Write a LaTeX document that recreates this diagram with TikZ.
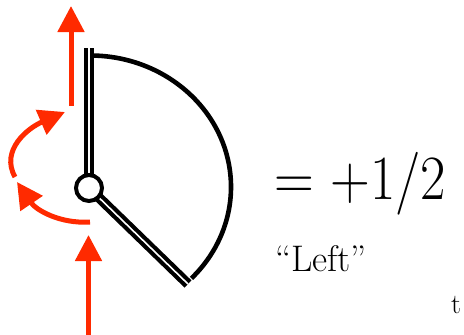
\documentclass[tikz,border=0pt]{standalone}
\usepackage{tikz}
\usetikzlibrary{arrows.meta, positioning}
\definecolor{spinred}{HTML}{FF2A00}

\begin{document}
\begin{tikzpicture}[
    x=1pt, y=1pt,
    rim/.style={draw=black, line width=4.6pt},
    spoke/.style={draw=black, double=white, line width=4.2pt, double distance=1.6pt},
    hub/.style={circle, draw=black, fill=white, line width=4pt, minimum size=26pt, inner sep=0pt},
    txt/.style={inner sep=0pt, anchor=base west},
    arrow/.style={-{Triangle[length=26pt, width=26pt]}, line width=5pt, spinred}
]
\useasboundingbox (0,0) rectangle (464,-335);

% the half-spin wedge
\coordinate (pivot) at (89,-188);
\coordinate (top) at (89,-48);
\coordinate (tail) at (188,-284);
\draw[rim] (90,-55.5) arc[start angle=90, end angle=-44, x radius=141pt, y radius=131.5pt];
\draw[spoke] (pivot) -- (top);
\draw[spoke] (pivot) -- (tail);
\node[hub] (hub) at (pivot) {};

% red arrows
\coordinate (upfoot) at (71,-106);
\coordinate (uptip) at (71,-6);
\coordinate (lowfoot) at (88.5,-335);
\coordinate (lowtip) at (88.5,-235);
\coordinate (turnstart) at (90,-222);
\coordinate (turnmid) at (17,-182);
\coordinate (turnfoot) at (15,-177);
\coordinate (turnend) at (65,-112);
\draw[arrow] (upfoot) -- (uptip);
\draw[arrow] (lowfoot) -- (lowtip);
\draw[arrow] (turnstart) .. controls (60,-224) and (36,-210) .. (turnmid);
\draw[arrow] (turnfoot) .. controls (0,-150) and (28,-128) .. (turnend);

% labels
\node[txt, font=\fontsize{63}{70}\selectfont] (value) at (274,-199) {\scalebox{0.875}[1]{= +1/2}};
\node[txt, font=\fontsize{37}{42}\selectfont] (side) at (275,-271) {“Left”};
\node[txt, font=\fontsize{28}{32}\selectfont] (stub) at (451,-313) {t};

\end{tikzpicture}
\end{document}
